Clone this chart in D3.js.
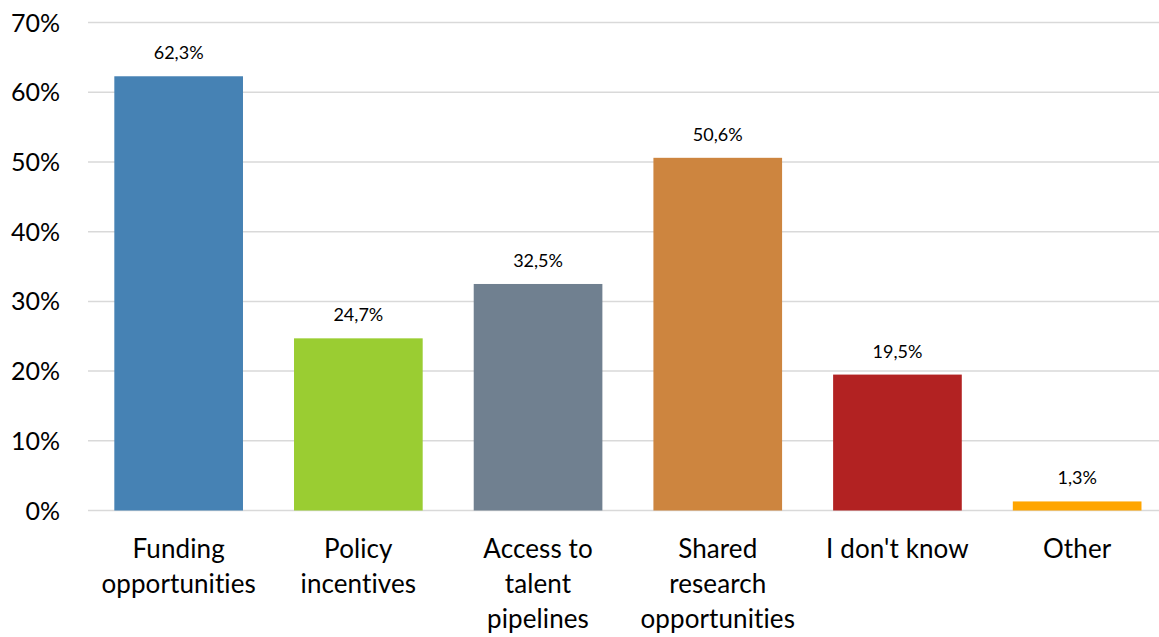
<!DOCTYPE html>
<html>
<head>
<meta charset="utf-8">
<script src="https://cdn.jsdelivr.net/npm/d3@7"></script>
<style>
  html, body { margin: 0; padding: 0; background: #fff; }
  svg { display: block; }
  svg text, svg tspan { font-variant-ligatures: none; font-feature-settings: "liga" 0, "clig" 0, "dlig" 0; }
</style>
</head>
<body>
<svg id="chart" width="1159" height="637"></svg>
<script>
// Survey responses: share of respondents per answer
const categories = [
  ["Funding", "opportunities"],
  ["Policy", "incentives"],
  ["Access to", "talent", "pipelines"],
  ["Shared", "research", "opportunities"],
  ["I don't know"],
  ["Other"]
];
const values = [62.3, 24.7, 32.5, 50.6, 19.5, 1.3];
const colors = ["#4682B4", "#9ACD32", "#708090", "#CD853F", "#B22222", "#FFA500"];
const yTicks = [0, 10, 20, 30, 40, 50, 60, 70];

const svg = d3.select("#chart");
const font = "Lato, 'Open Sans', sans-serif";

const plot = { left: 88.8, right: 1167, top: 22.6, bottom: 510.5 };

const x = d3.scaleBand()
  .domain(d3.range(values.length))
  .range([plot.left, plot.right])
  .paddingInner(0.284)
  .paddingOuter(0.142);

const y = d3.scaleLinear().domain([0, 70]).range([plot.bottom, plot.top]);

// Horizontal gridlines
svg.append("g")
  .selectAll("line")
  .data(yTicks)
  .join("line")
  .attr("x1", 88).attr("x2", 1159)
  .attr("y1", d => y(d)).attr("y2", d => y(d))
  .attr("stroke", "#d9d9d9")
  .attr("stroke-width", 1.5);

// Y axis labels
svg.append("g")
  .selectAll("text")
  .data(yTicks)
  .join("text")
  .attr("x", 60)
  .attr("y", d => y(d))
  .attr("dy", "0.36em")
  .attr("text-anchor", "end")
  .attr("font-family", font)
  .attr("font-size", 25)
  .attr("fill", "#000")
  .text(d => d + "%");

// Bars
svg.append("g")
  .selectAll("rect")
  .data(values)
  .join("rect")
  .attr("x", (d, i) => x(i))
  .attr("width", x.bandwidth())
  .attr("y", d => y(d))
  .attr("height", d => y(0) - y(d))
  .attr("fill", (d, i) => colors[i]);

// Value labels
const fmt = v => v.toFixed(1).replace(".", ",") + "%";
svg.append("g")
  .selectAll("text")
  .data(values)
  .join("text")
  .attr("x", (d, i) => x(i) + x.bandwidth() / 2)
  .attr("y", d => y(d) - 17)
  .attr("text-anchor", "middle")
  .attr("font-family", font)
  .attr("font-size", 18)
  .attr("fill", "#000")
  .text(fmt);

// Category labels (multi-line); slight tracking keeps letters unjoined
const cat = svg.append("g")
  .selectAll("text")
  .data(categories)
  .join("text")
  .attr("x", (d, i) => x(i) + x.bandwidth() / 2)
  .attr("y", 558)
  .attr("text-anchor", "middle")
  .attr("font-family", font)
  .attr("font-size", 26)
  .attr("letter-spacing", 0.1)
  .style("font-variant-ligatures", "none")
  .attr("fill", "#000");

cat.selectAll("tspan")
  .data(d => d)
  .join("tspan")
  .attr("x", function () { return d3.select(this.parentNode).attr("x"); })
  .attr("dy", (d, i) => i === 0 ? 0 : 35)
  .text(d => d);
</script>
</body>
</html>
